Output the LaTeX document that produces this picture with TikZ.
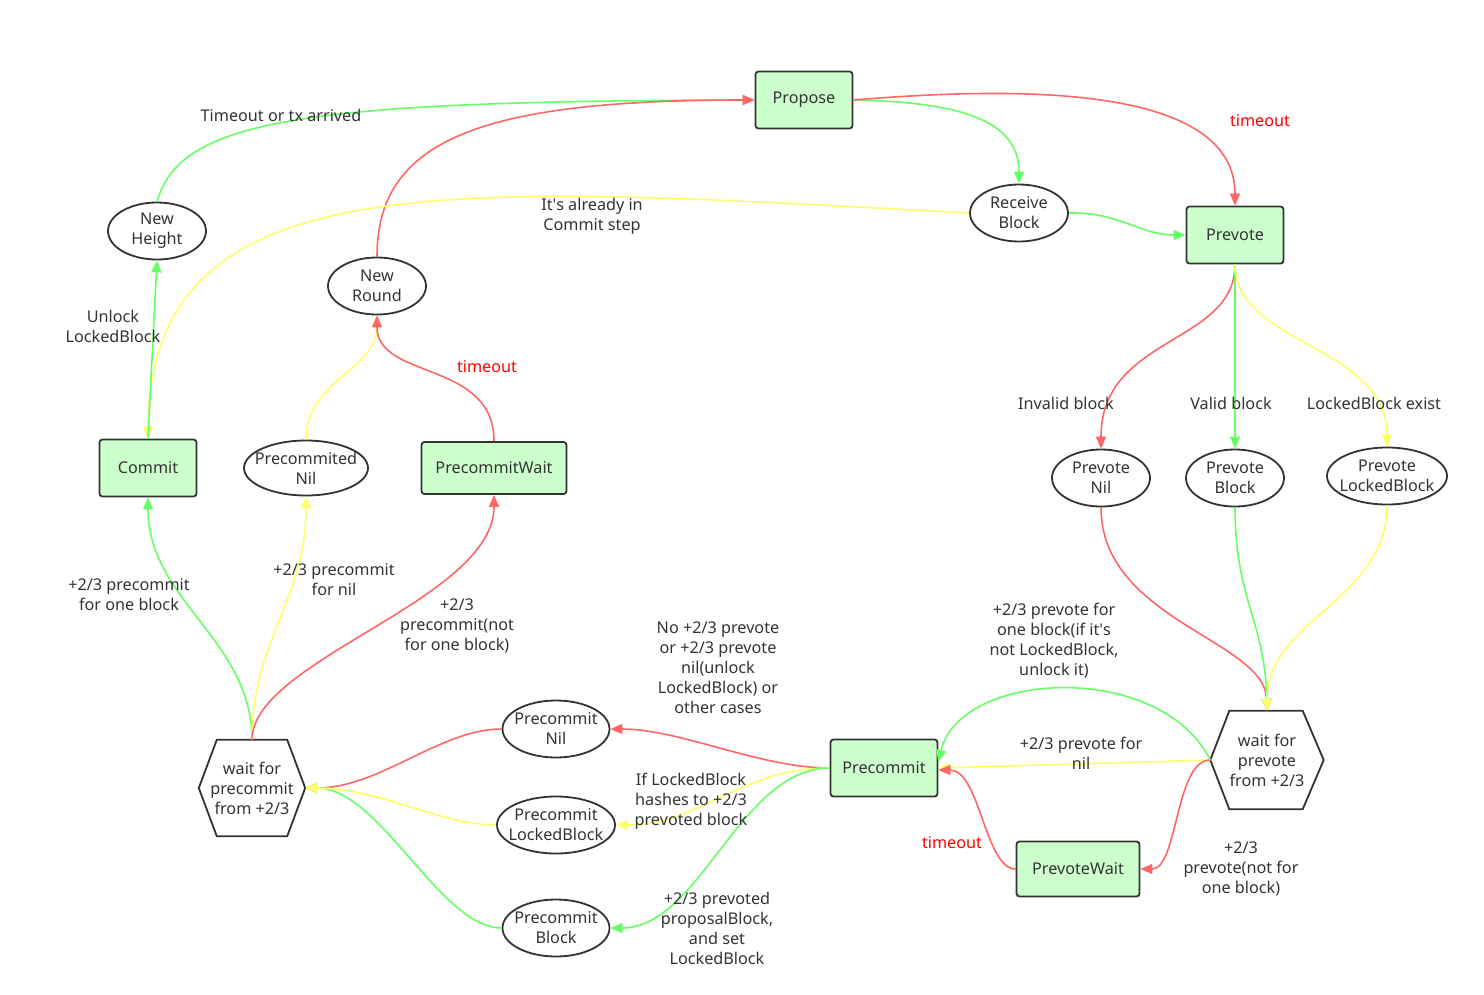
\documentclass[tikz,border=0pt]{standalone}
\usepackage{fontspec}
\setmainfont{Noto Sans}
\usetikzlibrary{arrows.meta,shapes.geometric}
\definecolor{eg}{HTML}{66FF66}
\definecolor{er}{HTML}{FF6666}
\definecolor{ey}{HTML}{FFFF66}
\definecolor{boxf}{HTML}{CCFFCC}
\definecolor{bord}{HTML}{333333}
\definecolor{txt}{HTML}{333333}
\definecolor{redt}{HTML}{FF0000}
\begin{document}
\begin{tikzpicture}[x=1pt,y=-1pt,
  every node/.style={font=\fontsize{16.2}{20}\selectfont, text=txt},
  box/.style={draw=bord, fill=boxf, line width=1.8pt, rounded corners=3pt, minimum width=97pt, minimum height=57pt, inner sep=0pt},
  oval/.style={ellipse, draw=bord, fill=white, line width=1.8pt, minimum width=98pt, minimum height=57pt, inner sep=-14pt, align=center},
  hexa/.style={minimum width=108pt, minimum height=97pt, inner sep=0pt, align=center},
  hexline/.style={draw=bord, line width=1.8pt, line join=miter},
  lab/.style={align=center, inner sep=0pt},
  redlab/.style={text=redt, inner sep=0pt},
  tip/.style={-{Triangle[length=12pt,width=10pt]}},
  ge/.style={draw=eg, line width=1.6pt, tip},
  re/.style={draw=er, line width=1.6pt, tip},
  ye/.style={draw=ey, line width=1.6pt, tip}
]
\useasboundingbox (0,0) rectangle (1484,994);
\fill[white] (0,0) rectangle (1484,994);

% boxes
\node[box] (pro) at (804,100) {Propose};
\node[box] (pv) at (1235,235) {Prevote};
\node[box] (com) at (148,468) {Commit};
\node[box, minimum width=145pt, minimum height=52pt] (pcw) at (494,468) {PrecommitWait};
\node[box, minimum width=107pt] (pc) at (884,768) {Precommit};
\node[box, minimum width=123pt, minimum height=55pt] (pw) at (1078,869) {PrevoteWait};

% ellipses
\node[oval] (rb) at (1019,213) {Receive\\Block};
\node[oval] (nh) at (157,231) {New\\Height};
\node[oval] (nr) at (377,286) {New\\Round};
\node[oval, minimum width=124pt, minimum height=55pt] (pcn) at (306,468) {Precommited\\Nil};
\node[oval] (pvn) at (1101,478) {Prevote\\Nil};
\node[oval] (pvb) at (1235,478) {Prevote\\Block};
\node[oval, minimum width=120pt] (pvl) at (1387,476) {Prevote\\LockedBlock};
\node[oval, minimum width=107pt] (pmn) at (556,729) {Precommit\\Nil};
\node[oval, minimum width=118pt] (pml) at (556,825) {Precommit\\LockedBlock};
\node[oval, minimum width=107pt] (pmb) at (556,928) {Precommit\\Block};

% hexagons
\node[hexa, minimum width=113pt, minimum height=98pt] (wpv) at (1267,760) {wait for\\prevote\\from +2/3};
\draw[hexline] (wpv.west) -- ([xshift=19pt]wpv.north west) -- ([xshift=-21pt]wpv.north east) -- (wpv.east) -- ([xshift=-21pt]wpv.south east) -- ([xshift=19pt]wpv.south west) -- cycle;
\node[hexa, minimum width=106pt, minimum height=96pt] (wpc) at (252,788) {wait for\\precommit\\from +2/3};
\draw[hexline] (wpc.west) -- ([xshift=18pt]wpc.north west) -- ([xshift=-18pt]wpc.north east) -- (wpc.east) -- ([xshift=-18pt]wpc.south east) -- ([xshift=18pt]wpc.south west) -- cycle;

% edges top
\draw[ge] (nh.north) .. controls (180,120) and (300,101) .. (pro.west);
\draw[re] (nr.north) .. controls (377,140) and (480,100) .. (pro.west);
\draw[ge] (pro.east) .. controls (960,102) and (1019,120) .. (rb.north);
\draw[re] (pro.east) .. controls (1000,88) and (1235,80) .. (pv.north);
\draw[ge] (rb.east) .. controls (1120,212) and (1140,235) .. (pv.west);
\draw[ye] (rb.west) .. controls (450,185) and (150,160) .. (com.north);
\draw[ge] (com.north) -- (nh.south);

% prevote branches
\draw[re] (pv.south) .. controls (1235,345) and (1101,335) .. (pvn.north);
\draw[ge] (pv.south) -- (pvb.north);
\draw[ye] (pv.south) .. controls (1235,345) and (1387,345) .. (pvl.north);
\draw[re] (pvn.south) .. controls (1101,620) and (1265,640) .. (wpv.north);
\draw[ge] (pvb.south) .. controls (1235,600) and (1265,620) .. (wpv.north);
\draw[ye] (pvl.south) .. controls (1387,600) and (1267,620) .. (wpv.north);

% from wait prevote
\draw[ge] (wpv.west) .. controls (1160,660) and (960,670) .. ([yshift=6pt]pc.east);
\draw[ye] (wpv.west) -- (pc.east);
\draw[re] (wpv.west) .. controls (1175,760) and (1178,869) .. (pw.east);
\draw[re] (pw.west) .. controls (985,869) and (980,770) .. ([yshift=-2pt]pc.east);

% from precommit
\draw[re] (pc.west) .. controls (760,768) and (680,729) .. (pmn.east);
\draw[ye] (pc.west) .. controls (740,768) and (700,825) .. (pml.east);
\draw[ge] (pc.west) .. controls (740,768) and (700,928) .. (pmb.east);

% into wait precommit
\draw[re] (pmn.west) .. controls (440,729) and (380,788) .. (wpc.east);
\draw[ge] (pmb.west) .. controls (440,928) and (380,788) .. (wpc.east);
\draw[ye] (pml.west) .. controls (440,825) and (380,788) .. (wpc.east);

% from wait precommit
\draw[ge] (wpc.north) .. controls (252,640) and (148,600) .. (com.south);
\draw[ye] (wpc.north) .. controls (252,640) and (306,600) .. (pcn.south);
\draw[re] (wpc.north) .. controls (252,660) and (494,600) .. (pcw.south);

% into new round
\draw[ye] (pcn.north) .. controls (306,380) and (377,370) .. (nr.south);
\draw[re] (pcw.north) .. controls (494,360) and (377,380) .. (nr.south);

% labels
\node[lab] (l1) at (281,115) {Timeout or tx arrived};
\node[lab] (l2) at (592,216) {It\textquotesingle s already in\\Commit step};
\node[lab] (l3) at (113,326) {Unlock\\LockedBlock};
\node[redlab] (l4) at (1260,121) {timeout};
\node[redlab] (l5) at (487,367) {timeout};
\node[lab] (l6) at (1066,403) {Invalid block};
\node[lab] (l7) at (1231,403) {Valid block};
\node[lab] (l8) at (1374,403) {LockedBlock exist};
\node[lab] (l9) at (1054,641) {+2/3 prevote for\\one block(if it\textquotesingle s\\not LockedBlock,\\unlock it)};
\node[lab] (l10) at (1081,753) {+2/3 prevote for\\nil};
\node[lab] (l11) at (1241,869) {+2/3\\prevote(not for\\one block)};
\node[redlab] (l12) at (952,843) {timeout};
\node[lab] (l13) at (718,668) {No +2/3 prevote\\or +2/3 prevote\\nil(unlock\\LockedBlock) or\\other cases};
\node[lab] (l14) at (691,801) {If LockedBlock\\hashes to +2/3\\prevoted block};
\node[lab] (l15) at (717,928) {+2/3 prevoted\\proposalBlock,\\and set\\LockedBlock};
\node[lab] (l16) at (129,595) {+2/3 precommit\\for one block};
\node[lab] (l17) at (334,580) {+2/3 precommit\\for nil};
\node[lab] (l18) at (457,626) {+2/3\\precommit(not\\for one block)};
\end{tikzpicture}
\end{document}
